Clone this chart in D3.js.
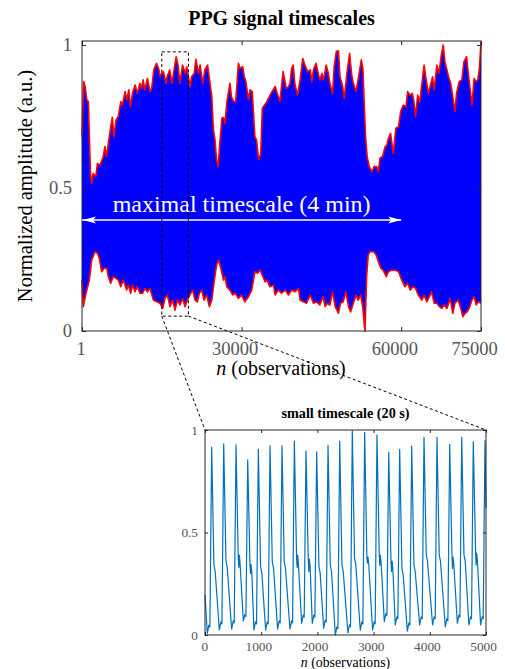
<!DOCTYPE html>
<html lang="en">
<head>
<meta charset="UTF-8">
<title>PPG signal timescales</title>
<script src="https://d3js.org/d3.v7.min.js"></script>
<style>
  body { margin: 0; background: #fff; }
  text { font-family: "Liberation Serif", "Times New Roman", serif; }
</style>
</head>
<body>
<svg id="chart" width="505" height="669"></svg>
<script>
// ---- data ----
var mainXTicks = [1, 30000, 60000, 75000];
var mainYTicks = [0, 0.5, 1];
var insetXTicks = [0, 1000, 2000, 3000, 4000, 5000];
var insetYTicks = [0, 0.5, 1];

// upper envelope of the long recording [n, amplitude]
var upperEnv = [[1,.679],[300,.872],[600,.854],[900,.808],[1200,.802],[1400,.668],[1600,.551],[1800,.516],[2100,.551],[2600,.540],[2900,.586],[3400,.580],[4000,.610],[4300,.645],[4600,.610],[5000,.662],[5400,.714],[5700,.747],[6000,.679],[6400,.738],[6800,.749],[7300,.802],[7600,.790],[8100,.837],[8400,.808],[8800,.843],[9100,.784],[9500,.831],[10000,.860],[10400,.831],[10900,.866],[11200,.848],[11500,.878],[11800,.843],[12300,.883],[12800,.837],[13100,.848],[13500,.913],[14000,.936],[14400,.918],[14700,.889],[15000,.901],[15300,.907],[15800,.866],[16000,.889],[16500,.913],[16900,.866],[17200,.901],[17700,.959],[18100,.924],[18400,.866],[18900,.930],[19400,.901],[19700,.924],[20000,.889],[20300,.854],[20600,.889],[21100,.901],[21400,.950],[21900,.901],[22200,.930],[22700,.866],[23100,.913],[23600,.930],[23900,.889],[24400,.819],[24700,.703],[25000,.668],[25300,.598],[25600,.575],[25900,.656],[26300,.744],[26600,.747],[26900,.726],[27200,.796],[27800,.866],[28100,.819],[28500,.802],[28900,.802],[29400,.936],[29700,.918],[30200,.924],[30500,.889],[30800,.872],[31300,.808],[31600,.843],[32000,.837],[32500,.679],[32800,.668],[33200,.600],[33600,.620],[33900,.780],[34700,.800],[35500,.830],[36300,.855],[37200,.802],[37800,.907],[38400,.848],[38800,.854],[39100,.866],[39400,.918],[39700,.930],[40000,.866],[40500,.825],[41000,.878],[41500,.953],[41900,.930],[42400,.907],[42900,.913],[43200,.872],[43500,.913],[44000,.936],[44400,.901],[44700,.878],[45100,.901],[45400,.878],[45900,.930],[46300,.901],[46600,.866],[47100,.831],[47400,.924],[47800,.977],[48200,.980],[48500,.889],[49000,.854],[49300,.814],[49800,.901],[50300,.971],[50700,.895],[51000,.866],[51500,.837],[51900,.878],[52500,.948],[52800,.918],[53000,.819],[53300,.679],[53600,.610],[54000,.575],[54500,.557],[54900,.575],[55400,.575],[55700,.557],[56000,.604],[56500,.610],[57000,.645],[57300,.650],[57600,.674],[58000,.691],[58500,.621],[59000,.709],[59500,.714],[59900,.767],[60400,.790],[60900,.784],[61200,.837],[61700,.825],[62100,.831],[62400,.802],[62700,.749],[63100,.825],[63500,.802],[63900,.866],[64300,.930],[64700,.878],[65100,.831],[65600,.866],[65900,.889],[66200,.843],[66700,.930],[67100,.901],[67500,.959],[67900,1.0],[68200,.942],[68600,.913],[68900,.889],[69300,.866],[69700,.819],[70100,.767],[70400,.831],[70900,.872],[71400,.878],[71800,.942],[72300,.959],[72600,.901],[72900,.854],[73300,.790],[73700,.883],[74100,.872],[74400,.878],[74700,.918],[75000,1.01]];

// lower envelope of the long recording [n, amplitude]
var lowerEnv = [[1,.178],[250,.085],[750,.132],[1380,.178],[1820,.248],[2440,.277],[2880,.272],[3260,.254],[3700,.207],[4140,.219],[4640,.219],[4950,.190],[5390,.167],[5890,.190],[6390,.184],[6830,.178],[7270,.155],[7770,.178],[8400,.143],[8710,.161],[9150,.132],[9530,.161],[9960,.137],[10400,.155],[10900,.132],[11400,.132],[11840,.149],[12280,.137],[12780,.149],[13410,.108],[14040,.102],[14660,.097],[15170,.079],[15600,.114],[16040,.126],[16540,.085],[17040,.108],[17480,.073],[17920,.108],[18420,.091],[18920,.114],[19360,.085],[19800,.108],[20300,.126],[20800,.143],[21240,.108],[21680,.102],[22060,.132],[22500,.143],[22940,.108],[23440,.126],[23940,.085],[24400,.108],[24800,.167],[25300,.231],[25700,.248],[26100,.219],[26600,.178],[26900,.190],[27200,.155],[27800,.143],[28300,.126],[28800,.132],[29400,.114],[30000,.126],[30600,.102],[31300,.120],[31900,.143],[32500,.207],[33000,.202],[33500,.213],[34000,.190],[34400,.172],[34800,.178],[35300,.155],[36000,.160],[36300,.126],[36900,.143],[37500,.132],[38200,.143],[38800,.126],[39400,.143],[40000,.137],[40700,.149],[41000,.108],[41600,.102],[42200,.097],[42900,.126],[43500,.097],[44100,.102],[44700,.091],[45300,.120],[45700,.085],[46100,.097],[46600,.091],[47100,.137],[47600,.085],[48200,.062],[48600,.097],[49100,.102],[49600,.137],[50100,.085],[50500,.067],[51000,.097],[51500,.126],[51900,.108],[52400,.126],[52800,.079],[53100,.015],[53200,0],[53350,.100],[53500,.190],[53800,.266],[54100,.277],[54800,.277],[55300,.266],[55700,.242],[56200,.219],[56600,.213],[57200,.190],[57600,.207],[58200,.213],[58800,.213],[59500,.207],[60100,.178],[60700,.155],[61200,.167],[61700,.143],[62200,.155],[62700,.149],[63200,.126],[63900,.108],[64300,.126],[64800,.102],[65300,.120],[65700,.137],[66200,.097],[66700,.097],[67200,.085],[67600,.079],[68100,.091],[68600,.079],[69200,.114],[69700,.062],[70100,.097],[70700,.108],[71200,.079],[71600,.050],[72000,.062],[72400,.067],[72900,.085],[73300,.108],[73700,.120],[74100,.091],[74500,.102],[75000,.097]];

// 20 s excerpt [n, amplitude]
var insetSignal = [[0,.195],[41,.008],[69,.048],[87,.038],
[119,.916],[159,.341],[181,.311],[255,.024],[283,.064],[301,.054],
[333,.932],[373,.361],[395,.331],[474,.029],[502,.069],[520,.059],
[552,.927],[592,.37],[602,.33],[612,.39],[626,.34],[682,.068],[710,.10],[728,.09],
[760,.854],[800,.341],[810,.30],[818,.345],[832,.31],[871,.024],[899,.064],[917,.054],
[949,.906],[989,.333],[1011,.303],[1079,.024],[1107,.064],[1125,.054],
[1157,.923],[1197,.358],[1219,.328],[1292,.029],[1320,.069],[1338,.059],
[1370,.923],[1410,.355],[1432,.325],[1512,.029],[1540,.069],[1558,.059],
[1590,.946],[1630,.37],[1640,.33],[1650,.39],[1664,.34],[1719,.057],[1747,.097],[1765,.087],
[1797,.898],[1837,.374],[1847,.31],[1857,.37],[1871,.33],[1909,.057],[1937,.097],[1955,.087],
[1987,.894],[2027,.333],[2049,.303],[2111,.033],[2139,.073],[2157,.063],
[2189,.925],[2229,.341],[2251,.311],[2319,0],[2347,.04],[2365,.03],
[2397,.946],[2437,.341],[2459,.311],[2543,.01],[2571,.05],[2589,.04],
[2621,.997],[2661,.374],[2683,.344],[2763,.024],[2791,.064],[2809,.054],
[2841,.989],[2881,.374],[2891,.35],[2901,.38],[2915,.34],[2982,.024],[3010,.064],[3028,.054],
[3060,.976],[3100,.398],[3110,.34],[3120,.39],[3134,.35],[3191,.065],[3219,.105],[3237,.095],
[3269,.891],[3309,.358],[3319,.31],[3329,.36],[3343,.32],[3386,.049],[3414,.089],[3432,.079],
[3464,.906],[3504,.325],[3526,.295],[3600,.019],[3628,.059],[3646,.049],
[3678,.922],[3718,.341],[3740,.311],[3819,.049],[3847,.089],[3865,.079],
[3897,.964],[3937,.39],[3959,.36],[4050,.049],[4078,.089],[4096,.079],
[4128,.964],[4168,.39],[4190,.36],[4276,.04],[4304,.08],[4322,.07],
[4354,.93],[4394,.398],[4404,.325],[4414,.38],[4428,.34],[4490,.057],[4518,.097],[4536,.087],
[4568,.964],[4608,.39],[4630,.36],[4696,.049],[4724,.089],[4742,.079],
[4774,.943],[4814,.415],[4824,.341],[4834,.40],[4848,.36],[4904,.049],[4932,.089],[4950,.079],
[4982,.948],[5000,.62]];

var zoomWindow = {n0: 15000, n1: 20000, lo: 0.052, hi: 0.976};
var arrowSpan = {n0: 1, n1: 60000, level: 0.388};

// ---- layout ----
var svg = d3.select("#chart");
var tickColor = "#555";
var axisColor = "#262626";

var x = d3.scaleLinear().domain([1, 75000]).range([82, 481]);
var y = d3.scaleLinear().domain([0, 1.014]).range([331, 41]);

var xi = d3.scaleLinear().domain([0, 5000]).range([205, 486]);
var yi = d3.scaleLinear().domain([0, 1]).range([635, 430]);

// title
svg.append("text")
    .attr("x", 281.5).attr("y", 25)
    .attr("text-anchor", "middle")
    .style("font-size", "20px").style("font-weight", "bold")
    .text("PPG signal timescales");

// band between envelopes
var line = d3.line().x(function(d) { return x(d[0]); }).y(function(d) { return y(d[1]); });
var band = upperEnv.concat(lowerEnv.slice().reverse());
svg.append("path")
    .attr("d", line(band) + "Z")
    .attr("fill", "#0000ff")
    .attr("stroke", "none");

svg.append("path").attr("d", line(upperEnv))
    .attr("fill", "none").attr("stroke", "#ff0000").attr("stroke-width", 1.6).attr("stroke-linejoin", "round");
svg.append("path").attr("d", line(lowerEnv))
    .attr("fill", "none").attr("stroke", "#ff0000").attr("stroke-width", 1.6).attr("stroke-linejoin", "round");

// axes of the main plot
function styleAxis(g, size) {
    g.select(".domain").remove();
    g.selectAll(".tick line").attr("stroke", axisColor);
    g.selectAll("text").attr("fill", tickColor).style("font-size", size).attr("font-family", null);
}

var gx = svg.append("g").attr("transform", "translate(0,331)")
    .call(d3.axisBottom(x).tickValues(mainXTicks).tickSize(-4).tickPadding(11).tickFormat(d3.format("d")));
styleAxis(gx, "18.5px");
gx.selectAll("text").attr("dx", function() { return -0.15 * this.getComputedTextLength(); });

svg.append("g").attr("transform", "translate(0,41)")
    .call(d3.axisTop(x).tickValues(mainXTicks).tickSize(-4).tickFormat(""))
    .call(function(g) { styleAxis(g, "1px"); });

var gy = svg.append("g").attr("transform", "translate(82,0)")
    .call(d3.axisLeft(y).tickValues(mainYTicks).tickSize(-4).tickPadding(10).tickFormat(function(d) { return d === 0 || d === 1 ? d : d3.format(".1f")(d); }));
styleAxis(gy, "18.5px");

svg.append("g").attr("transform", "translate(481,0)")
    .call(d3.axisRight(y).tickValues(mainYTicks).tickSize(-4).tickFormat(""))
    .call(function(g) { styleAxis(g, "1px"); });

svg.append("rect")
    .attr("x", 82).attr("y", 41).attr("width", 399).attr("height", 290)
    .attr("fill", "none").attr("stroke", axisColor).attr("stroke-width", 1);

// labels of the main plot
svg.append("text")
    .attr("transform", "translate(32,186) rotate(-90)")
    .attr("text-anchor", "middle")
    .style("font-size", "20.5px")
    .text("Normalized amplitude (a.u.)");

var xl = svg.append("text")
    .attr("x", 281).attr("y", 375)
    .attr("text-anchor", "middle")
    .style("font-size", "20px");
xl.append("tspan").style("font-style", "italic").text("n");
xl.append("tspan").text(" (observations)");

// double arrow for the long timescale
var ay = y(arrowSpan.level), ax0 = x(arrowSpan.n0), ax1 = x(arrowSpan.n1);
svg.append("line")
    .attr("x1", ax0).attr("x2", ax1).attr("y1", ay).attr("y2", ay)
    .attr("stroke", "#fff").attr("stroke-width", 1.4);
svg.append("path")
    .attr("d", "M" + ax1 + "," + ay + "l-13,-3.5l3,3.5l-3,3.5Z")
    .attr("fill", "#fff");
svg.append("path")
    .attr("d", "M" + (ax0 + 1) + "," + ay + "l13,-3.5l-3,3.5l3,3.5Z")
    .attr("fill", "#fff");
svg.append("text")
    .attr("x", x(30000)).attr("y", 212)
    .attr("text-anchor", "middle")
    .attr("fill", "#fff")
    .style("font-size", "24px")
    .text("maximal timescale (4 min)");

// dashed zoom window and connectors
var dash = "3,2.5";
svg.append("rect")
    .attr("x", x(zoomWindow.n0)).attr("y", y(zoomWindow.hi))
    .attr("width", x(zoomWindow.n1) - x(zoomWindow.n0))
    .attr("height", y(zoomWindow.lo) - y(zoomWindow.hi))
    .attr("fill", "none").attr("stroke", "#000").attr("stroke-width", 1).attr("stroke-dasharray", dash);
svg.append("line")
    .attr("x1", x(zoomWindow.n0)).attr("y1", y(zoomWindow.lo))
    .attr("x2", xi(0)).attr("y2", yi(1))
    .attr("stroke", "#000").attr("stroke-width", 1).attr("stroke-dasharray", dash);
svg.append("line")
    .attr("x1", x(zoomWindow.n1)).attr("y1", y(zoomWindow.lo))
    .attr("x2", xi(5000)).attr("y2", yi(1))
    .attr("stroke", "#000").attr("stroke-width", 1).attr("stroke-dasharray", dash);

// ---- inset ----
svg.append("rect")
    .attr("x", 205).attr("y", 430).attr("width", 281).attr("height", 205)
    .attr("fill", "#fff");

svg.append("text")
    .attr("x", 345.5).attr("y", 418)
    .attr("text-anchor", "middle")
    .style("font-size", "14.2px").style("font-weight", "bold")
    .text("small timescale (20 s)");

var lineI = d3.line().x(function(d) { return xi(d[0]); }).y(function(d) { return yi(d[1]); });
svg.append("path").attr("d", lineI(insetSignal))
    .attr("fill", "none").attr("stroke", "#0072bd").attr("stroke-width", 1.2).attr("stroke-linejoin", "round");

var gxi = svg.append("g").attr("transform", "translate(0,635)")
    .call(d3.axisBottom(xi).tickValues(insetXTicks).tickSize(-3).tickPadding(6.5).tickFormat(d3.format("d")));
styleAxis(gxi, "13.3px");
gxi.selectAll("text").attr("dx", function() { return -0.11 * this.getComputedTextLength(); });

svg.append("g").attr("transform", "translate(0,430)")
    .call(d3.axisTop(xi).tickValues(insetXTicks).tickSize(-3).tickFormat(""))
    .call(function(g) { styleAxis(g, "1px"); });

var gyi = svg.append("g").attr("transform", "translate(205,0)")
    .call(d3.axisLeft(yi).tickValues(insetYTicks).tickSize(-3).tickPadding(7).tickFormat(function(d) { return d === 0 || d === 1 ? d : d3.format(".1f")(d); }));
styleAxis(gyi, "13.3px");

svg.append("g").attr("transform", "translate(486,0)")
    .call(d3.axisRight(yi).tickValues(insetYTicks).tickSize(-3).tickFormat(""))
    .call(function(g) { styleAxis(g, "1px"); });

svg.append("rect")
    .attr("x", 205).attr("y", 430).attr("width", 281).attr("height", 205)
    .attr("fill", "none").attr("stroke", axisColor).attr("stroke-width", 1);

var xli = svg.append("text")
    .attr("x", 345.5).attr("y", 666.5)
    .attr("text-anchor", "middle")
    .style("font-size", "13.8px");
xli.append("tspan").style("font-style", "italic").text("n");
xli.append("tspan").text(" (observations)");
</script>
</body>
</html>
